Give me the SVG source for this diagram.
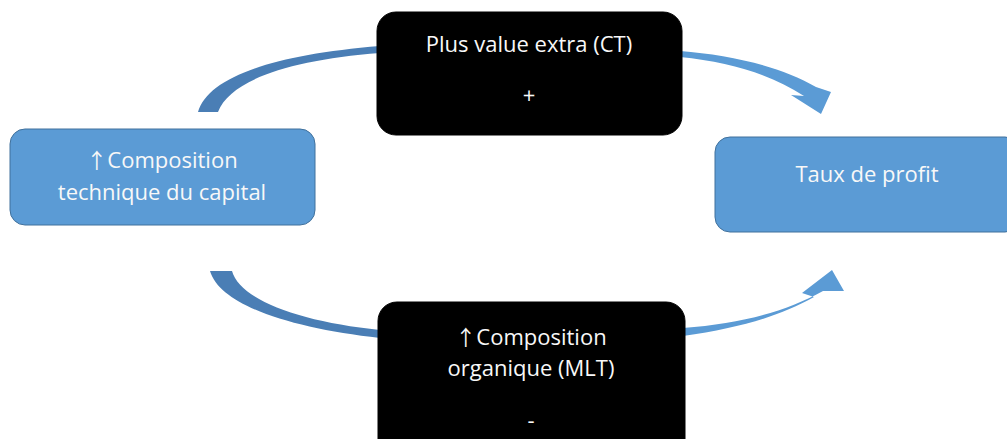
<svg xmlns="http://www.w3.org/2000/svg" width="1007" height="439" viewBox="0 0 1007 439">
<style>
.blue{fill:#5B9BD5;stroke:#41719C;stroke-width:1}
.black{fill:#000;stroke:#000}
.t{font-family:"Open Sans","DejaVu Sans",sans-serif;font-size:22px;fill:#F8F8F8;text-anchor:middle}
.ar{font-family:"Noto Sans CJK SC","DejaVu Sans",sans-serif;font-size:21px}
.dark{fill:#4A7EB5}
.light{fill:#5B9BD5}
</style>
<rect width="1007" height="439" fill="#fff"/>
<g id="connectors">
<path class="dark" d="M198,112 C208,78 270,55 380,46 L380,53 C290,60 230,80 218,112 Z"/>
<path class="light" d="M680,51 C730,55 780,66 816,87 L831,92 L821,114 L791,95 L804,96 C770,74 730,62 680,57 Z"/>
<path class="dark" d="M210,271 C220,305 290,328 380,338 L380,330 C300,322 240,300 232,271 Z"/>
<path class="light" d="M683,336 C740,328 780,316 814,297 L802,293 L832,270 L844,291 L823,291 C785,312 740,324 683,328 Z"/>
</g>
<g id="node-composition-technique">
<rect class="blue" x="10" y="129" width="305" height="96" rx="15"/>
<text class="t" x="162" y="168"><tspan class="ar">↑</tspan>Composition</text>
<text class="t" x="162" y="200">technique du capital</text>
</g>
<g id="node-plus-value">
<rect class="black" x="377" y="12" width="305" height="123" rx="19"/>
<text class="t" x="529" y="52">Plus value extra (CT)</text>
<text class="t" x="529" y="103">+</text>
</g>
<g id="node-taux-profit">
<rect class="blue" x="715" y="137" width="305" height="95" rx="15"/>
<text class="t" x="867" y="182">Taux de profit</text>
</g>
<g id="node-composition-organique">
<rect class="black" x="378" y="302" width="307" height="160" rx="19"/>
<text class="t" x="531" y="345"><tspan class="ar">↑</tspan>Composition</text>
<text class="t" x="531" y="376">organique (MLT)</text>
<text class="t" x="531" y="428">-</text>
</g>
</svg>
